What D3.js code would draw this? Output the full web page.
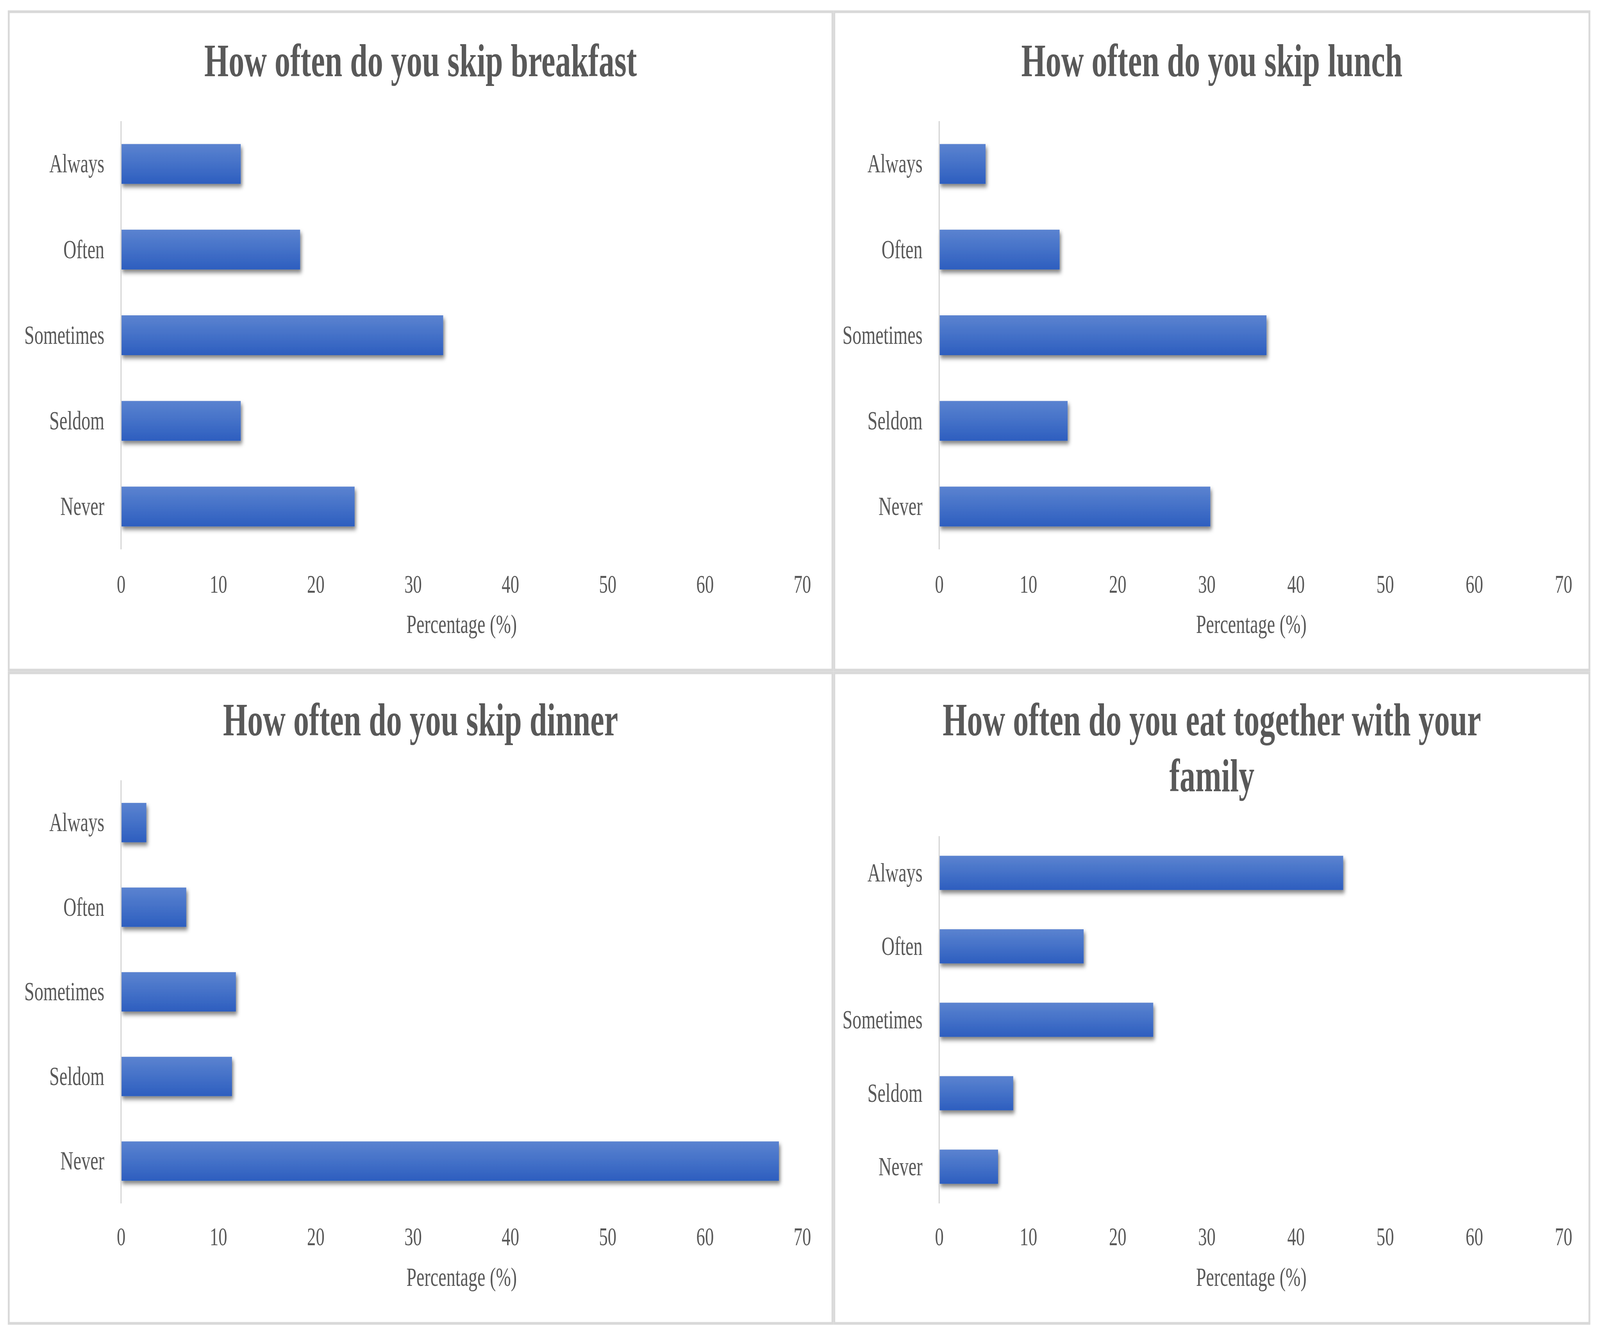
<!DOCTYPE html>
<html>
<head>
<meta charset="utf-8">
<script src="https://cdn.jsdelivr.net/npm/d3@7"></script>
<style>
  html, body { margin: 0; padding: 0; background: #fff; overflow: hidden; }
  svg { display: block; width: 100vw; height: 100vh; }
  text { font-family: "Liberation Serif", "Times New Roman", serif; fill: #595959; }
</style>
</head>
<body>
<div id="chart"></div>
<script>
(function() {
  var categories = ["Always", "Often", "Sometimes", "Seldom", "Never"];
  var breakfast = [12.3, 18.4, 33.1, 12.3, 24.0];
  var lunch = [5.2, 13.5, 36.7, 14.4, 30.4];
  var dinner = [2.6, 6.7, 11.8, 11.4, 67.6];
  var family = [45.3, 16.2, 24.0, 8.3, 6.6];
  var xTicks = [0, 10, 20, 30, 40, 50, 60, 70];
  var xLabel = "Percentage (%)";
  var titles = [
    ["How often do you skip breakfast"],
    ["How often do you skip lunch"],
    ["How often do you skip dinner"],
    ["How often do you eat together with your", "family"]
  ];
  var series = [breakfast, lunch, dinner, family];

  var W = 6041, H = 3427;

  // layout of the four boxes (frame + plot area)
  var panels = [
    { box: [33, 30, 3143, 1715], x0: 457, x1: 3029, top: 310, bot: 1406, tick: 1517, lab: 1620, title: [195] },
    { box: [3150, 30, 6001, 1715], x0: 3546, x1: 5903, top: 310, bot: 1406, tick: 1517, lab: 1620, title: [195] },
    { box: [33, 1722, 3143, 3387], x0: 457, x1: 3029, top: 1997, bot: 3080, tick: 3187, lab: 3291, title: [1882] },
    { box: [3150, 1722, 6001, 3387], x0: 3546, x1: 5903, top: 2140, bot: 3080, tick: 3187, lab: 3291, title: [1882, 2025] }
  ];

  var svg = d3.select("#chart").append("svg")
    .attr("viewBox", "0 0 " + W + " " + H)
    .attr("preserveAspectRatio", "none");
  svg.append("rect").attr("width", W).attr("height", H).attr("fill", "#fff");

  var defs = svg.append("defs");
  var grad = defs.append("linearGradient").attr("id", "barGrad")
    .attr("x1", 0).attr("y1", 0).attr("x2", 0).attr("y2", 1);
  grad.append("stop").attr("offset", "0%").attr("stop-color", "#5b83d0");
  grad.append("stop").attr("offset", "50%").attr("stop-color", "#4471c8");
  grad.append("stop").attr("offset", "100%").attr("stop-color", "#2d5ebf");
  var shadow = defs.append("filter").attr("id", "shadow")
    .attr("x", "-10%").attr("y", "-30%").attr("width", "130%").attr("height", "180%");
  shadow.append("feDropShadow").attr("dx", 5).attr("dy", 8).attr("stdDeviation", 6)
    .attr("flood-color", "#000").attr("flood-opacity", 0.5);

  panels.forEach(function(p, i) {
    var g = svg.append("g");
    var b = p.box;

    g.append("rect").attr("x", b[0]).attr("y", b[1])
      .attr("width", b[2] - b[0]).attr("height", b[3] - b[1])
      .attr("fill", "none").attr("stroke", "#d9d9d9").attr("stroke-width", 7);

    var x = d3.scaleLinear().domain([0, 70]).range([p.x0, p.x1]);
    var y = d3.scaleBand().domain(categories).range([p.top, p.bot])
      .paddingInner(0.535).paddingOuter(0.2675);

    // title
    var cx = (b[0] + b[2]) / 2;
    g.selectAll("text.title").data(titles[i]).enter().append("text")
      .attr("class", "title")
      .attr("x", cx).attr("y", function(d, k) { return p.title[k]; })
      .attr("text-anchor", "middle").style("font-size", "118px").style("font-weight", "bold")
      .text(function(d) { return d; });

    // x axis (labels only)
    var xAxis = d3.axisBottom(x).tickValues(xTicks).tickSize(0).tickPadding(0);
    var ax = g.append("g").attr("transform", "translate(0," + p.tick + ")").call(xAxis);
    ax.select(".domain").remove();
    ax.selectAll("text").attr("dy", 0).attr("fill", "#595959")
      .style("font-size", "66px").style("font-family", "Liberation Serif, serif");

    g.append("text").attr("x", (p.x0 + p.x1) / 2).attr("y", p.lab)
      .attr("text-anchor", "middle").style("font-size", "68px").text(xLabel);

    // y axis
    var yAxis = d3.axisLeft(y).tickSize(0).tickPadding(0);
    var ay = g.append("g").attr("transform", "translate(" + (p.x0 - 63) + ",0)").call(yAxis);
    ay.select(".domain").remove();
    ay.selectAll("text").attr("dy", "0.32em").attr("fill", "#595959")
      .style("font-size", "68px").style("font-family", "Liberation Serif, serif");

    // bars
    var rows = categories.map(function(c, k) { return { cat: c, v: series[i][k] }; });
    g.selectAll("rect.bar").data(rows).enter().append("rect")
      .attr("class", "bar")
      .attr("x", x(0))
      .attr("y", function(d) { return y(d.cat); })
      .attr("width", function(d) { return x(d.v) - x(0); })
      .attr("height", y.bandwidth())
      .attr("fill", "url(#barGrad)")
      .attr("filter", "url(#shadow)");

    g.append("line").attr("x1", x(0)).attr("x2", x(0))
      .attr("y1", p.top).attr("y2", p.bot)
      .attr("stroke", "#d0d0d0").attr("stroke-width", 4);
  });
})();
</script>
</body>
</html>
